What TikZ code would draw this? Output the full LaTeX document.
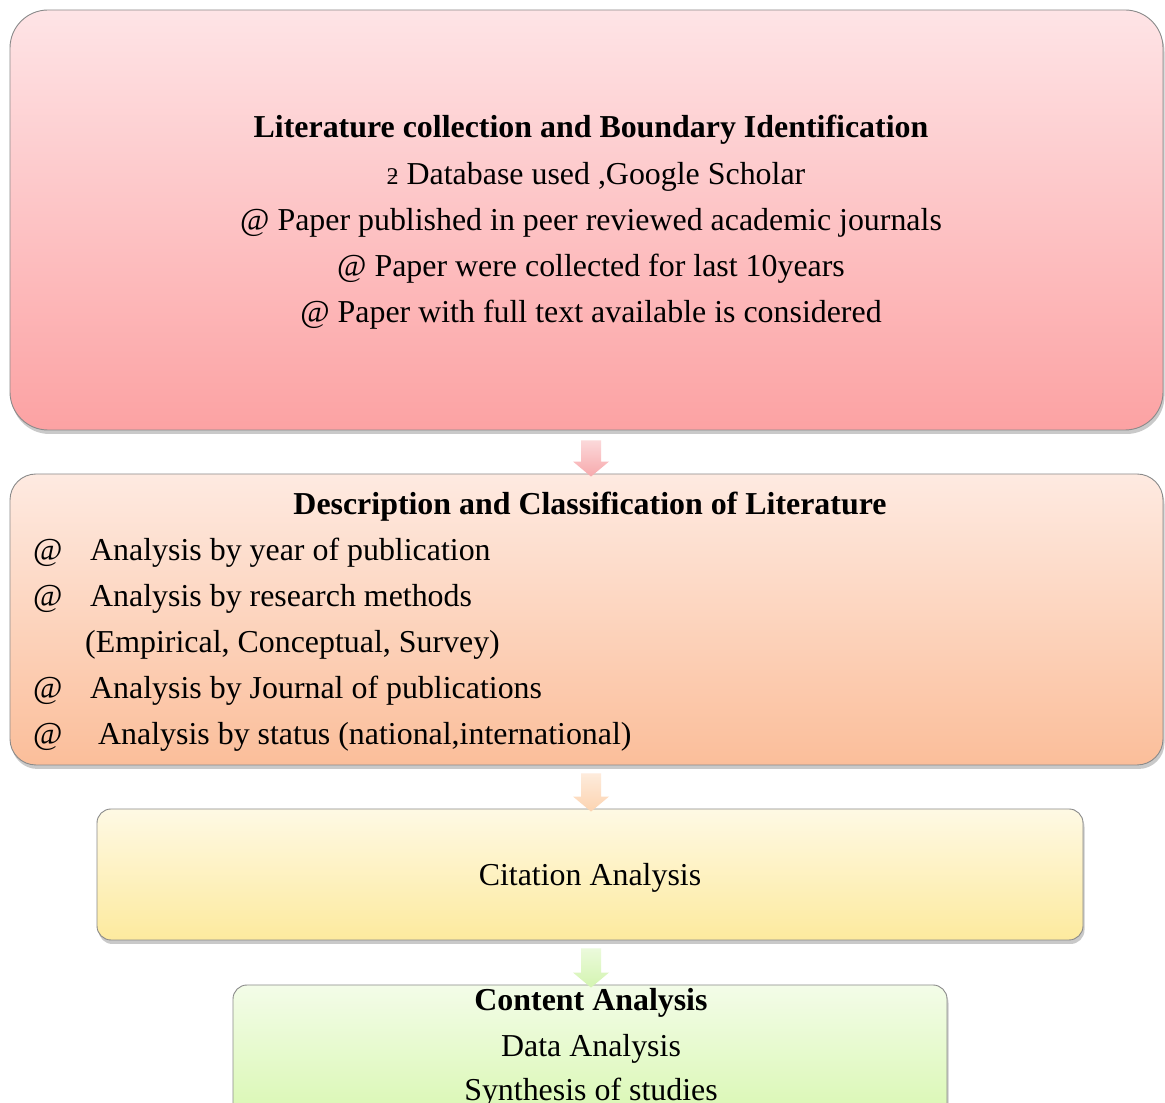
\documentclass[tikz,border=0pt]{standalone}
\usepackage{fontspec}
\setmainfont{Liberation Serif}
\usetikzlibrary{calc,shadows}
\definecolor{bordergray}{HTML}{8A8A8A}
\definecolor{pinkT}{HTML}{FEE4E6}\definecolor{pinkB}{HTML}{FCA2A3}
\definecolor{peachT}{HTML}{FEEAE1}\definecolor{peachB}{HTML}{FBBE9A}
\definecolor{yelT}{HTML}{FEF9E4}\definecolor{yelB}{HTML}{FDEA9E}
\definecolor{grnT}{HTML}{F3FCE8}\definecolor{grnB}{HTML}{D6F7AC}
\definecolor{arrPink}{HTML}{F7A9AC}\definecolor{arrPeach}{HTML}{FCD3B0}\definecolor{arrGreen}{HTML}{D3F4B0}
\newcommand{\blockarr}[3]{%
  \path[top color=#3!45,bottom color=#3,draw=none]
    ($(#1)+(-10,0)$) -- ($(#1)+(10,0)$) -- ($(#2)+(10,15)$) -- ($(#2)+(18,15)$) -- (#2)
    -- ($(#2)+(-18,15)$) -- ($(#2)+(-10,15)$) -- cycle;}
\tikzset{
  box/.style={draw=bordergray, line width=0.9pt, inner sep=0pt,
    drop shadow={shadow xshift=1.5pt, shadow yshift=-4pt, opacity=0.35, fill=black!60}},
  txt/.style={font=\fontsize{31.9}{46}\selectfont, inner sep=0pt, anchor=base},
  txtl/.style={txt, anchor=base west},
  txtb/.style={txt, font=\fontsize{31.9}{46}\selectfont\bfseries}
}
\begin{document}
\begin{tikzpicture}[x=1pt,y=1pt]
\clip (0,0) rectangle (1165,1103);
\fill[white] (0,0) rectangle (1165,1103);
% boxes
\node[box, rounded corners=38pt, top color=pinkT, bottom color=pinkB,
  minimum width=1153pt, minimum height=420pt] (b1) at (586.5,883) {};
\node[box, rounded corners=26pt, top color=peachT, bottom color=peachB,
  minimum width=1153pt, minimum height=291pt] (b2) at (586.5,483.5) {};
\node[box, rounded corners=14pt, top color=yelT, bottom color=yelB,
  minimum width=986pt, minimum height=131pt] (b3) at (590,228.5) {};
\node[box, rounded corners=14pt, top color=grnT, bottom color=grnB,
  minimum width=714pt, minimum height=150pt] (b4) at (590,43) {};
% connectors (block arrows)
\coordinate (a1s) at ($(b1.south -| 591,0)+(0,-10)$);
\coordinate (a1e) at ($(b2.north -| 591,0)+(0,-3)$);
\coordinate (a2s) at ($(b2.south -| 591,0)+(0,-8)$);
\coordinate (a2e) at ($(b3.north -| 591,0)+(0,-3)$);
\coordinate (a3s) at ($(b3.south -| 591,0)+(0,-8)$);
\coordinate (a3e) at ($(b4.north -| 591,0)+(0,-3)$);
\blockarr{a1s}{a1e}{arrPink}
\blockarr{a2s}{a2e}{arrPeach}
\blockarr{a3s}{a3e}{arrGreen}
% box 1 text
\node[txtb] (t1) at (591,965) {Literature collection and Boundary Identification};
\node[txt] (t1a) at (596,918) {{\fontsize{24}{30}\selectfont ƻ} Database used ,Google Scholar};
\node[txt] (t1b) at (591,872) {@ Paper published in peer reviewed academic journals};
\node[txt] (t1c) at (591,826) {@ Paper were collected for last 10years};
\node[txt] (t1d) at (591,780) {@ Paper with full text available is considered};
% box 2 text
\node[txtb] (t2) at (590,588) {Description and Classification of Literature};
\node[txtl] (m1) at (33,542) {@};
\node[txtl] (i1) at (90,542) {Analysis by year of publication};
\node[txtl] (m2) at (33,496) {@};
\node[txtl] (i2) at (90,496) {Analysis by research methods};
\node[txtl] (i3) at (85,450) {(Empirical, Conceptual, Survey)};
\node[txtl] (m4) at (33,404) {@};
\node[txtl] (i4) at (90,404) {Analysis by Journal of publications};
\node[txtl] (m5) at (33,358) {@};
\node[txtl] (i5) at (98,358) {Analysis by status (national,international)};
% box 3 text
\node[txt] (t3) at (590,217) {Citation Analysis};
% box 4 text
\node[txtb] (t4) at (591,92) {Content Analysis};
\node[txt] (t4a) at (591,46) {Data Analysis};
\node[txt] (t4b) at (591,2) {Synthesis of studies};
\end{tikzpicture}
\end{document}
